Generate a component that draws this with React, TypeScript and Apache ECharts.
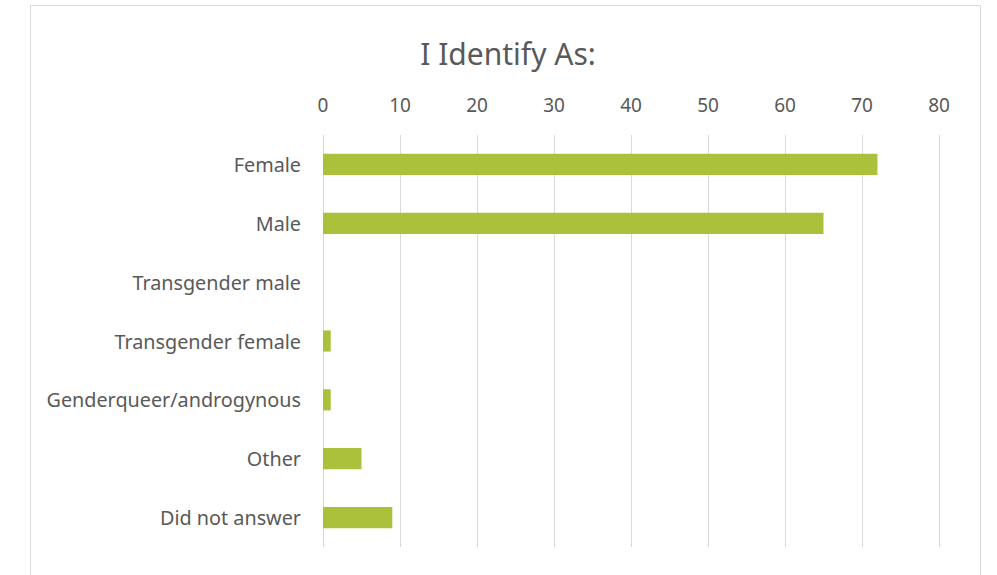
import React, { useEffect, useRef } from "react";
import * as echarts from "echarts";

const categories = [
  "Female",
  "Male",
  "Transgender male",
  "Transgender female",
  "Genderqueer/androgynous",
  "Other",
  "Did not answer",
];
const values = [72, 65, 0, 1, 1, 5, 9];
const titleText = "I Identify As:";
const axisMin = 0;
const axisMax = 80;
const axisStep = 10;

export default function App() {
  const ref = useRef<HTMLDivElement>(null);
  useEffect(() => {
    if (!ref.current) return;
    const chart = echarts.init(ref.current, null, { renderer: "svg" });
    const font = "'Noto Sans', 'Open Sans', sans-serif";
    chart.setOption({
      animation: false,
      backgroundColor: "#ffffff",
      graphic: [
        {
          type: "rect",
          shape: { x: 30.5, y: 5.5, width: 950, height: 580 },
          style: { fill: "none", stroke: "#d9d9d9", lineWidth: 1 },
          silent: true,
        },
      ],
      title: {
        text: titleText,
        left: 503,
        textAlign: "center",
        top: 33,
        textStyle: { fontFamily: font, fontSize: 30, fontWeight: "normal", color: "#595959" },
      },
      grid: { left: 323, right: 58, top: 135, bottom: 28, containLabel: false },
      xAxis: {
        type: "value",
        position: "top",
        min: axisMin,
        max: axisMax,
        interval: axisStep,
        axisLine: { show: false },
        axisTick: { show: false },
        axisLabel: { fontFamily: font, fontSize: 19, color: "#595959", margin: 21 },
        splitLine: { show: true, lineStyle: { color: "#d9d9d9", width: 1 } },
      },
      yAxis: {
        type: "category",
        data: categories,
        inverse: true,
        axisLine: { show: false },
        axisTick: { show: false },
        axisLabel: { fontFamily: font, fontSize: 19.8, color: "#595959", margin: 22 },
        splitLine: { show: false },
      },
      series: [
        {
          type: "bar",
          data: values,
          barWidth: "36%",
          itemStyle: { color: "#ABC13B" },
        },
      ],
    });
    return () => chart.dispose();
  }, []);
  return (
    <div
      ref={ref}
      style={{ position: "absolute", left: 0, top: 0, width: 997, height: 575 }}
    />
  );
}
